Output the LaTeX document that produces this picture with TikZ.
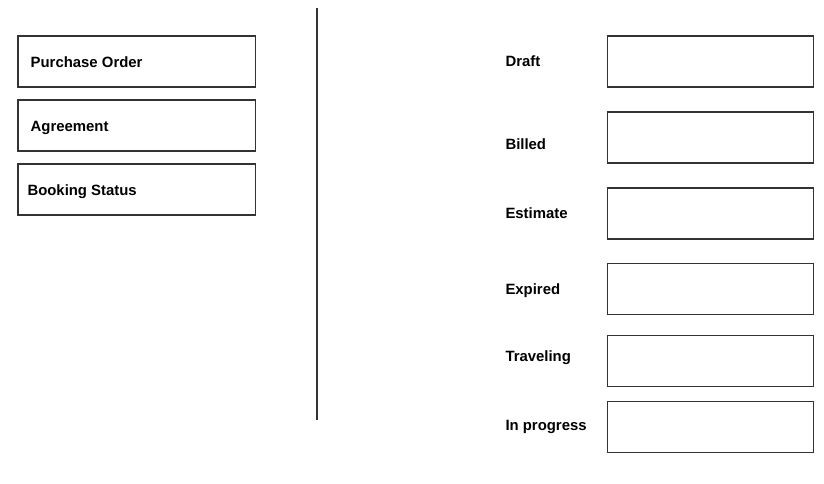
\documentclass[tikz,border=0pt]{standalone}
\usepackage{fontspec}
\setmainfont{Liberation Sans}
\definecolor{edge}{HTML}{333333}
\begin{document}
\begin{tikzpicture}[x=1pt,y=-1pt,
  box/.style={draw=edge,line width=1.1pt},
  lbl/.style={anchor=base west,inner sep=0pt,font=\bfseries\fontsize{14.9}{18}\selectfont}]
\useasboundingbox (0,0) rectangle (824,484);
% left boxes
\draw[box] (18,36) rectangle (255.5,87);
\draw[box] (18,100) rectangle (255.5,151);
\draw[box] (18,164) rectangle (255.5,215);
\node[lbl] (tpo) at (30.5,67.3) {Purchase Order};
\node[lbl] (tag) at (30.5,131.2) {Agreement};
\node[lbl] (tbs) at (27.3,195.6) {Booking Status};
% divider
\coordinate (dtop) at (317,8);
\coordinate (dbot) at (317,420);
\draw[draw=edge,line width=1.1pt] (dtop) -- (dbot);
% right boxes
\draw[box] (607.3,36) rectangle (813.3,87);
\draw[box] (607.3,112) rectangle (813.3,163);
\draw[box] (607.3,188) rectangle (813.3,239);
\draw[box] (607.3,263.5) rectangle (813.3,314.5);
\draw[box] (607.3,335.5) rectangle (813.3,386.5);
\draw[box] (607.3,401.5) rectangle (813.3,452.5);
\node[lbl] (tdr) at (505.3,66.7) {Draft};
\node[lbl] (tbi) at (505.3,149.3) {Billed};
\node[lbl] (tes) at (505.3,218.7) {Estimate};
\node[lbl] (tex) at (505.3,294.3) {Expired};
\node[lbl] (ttr) at (505.3,361.7) {Traveling};
\node[lbl] (tin) at (505.3,430.3) {In progress};
\end{tikzpicture}
\end{document}
